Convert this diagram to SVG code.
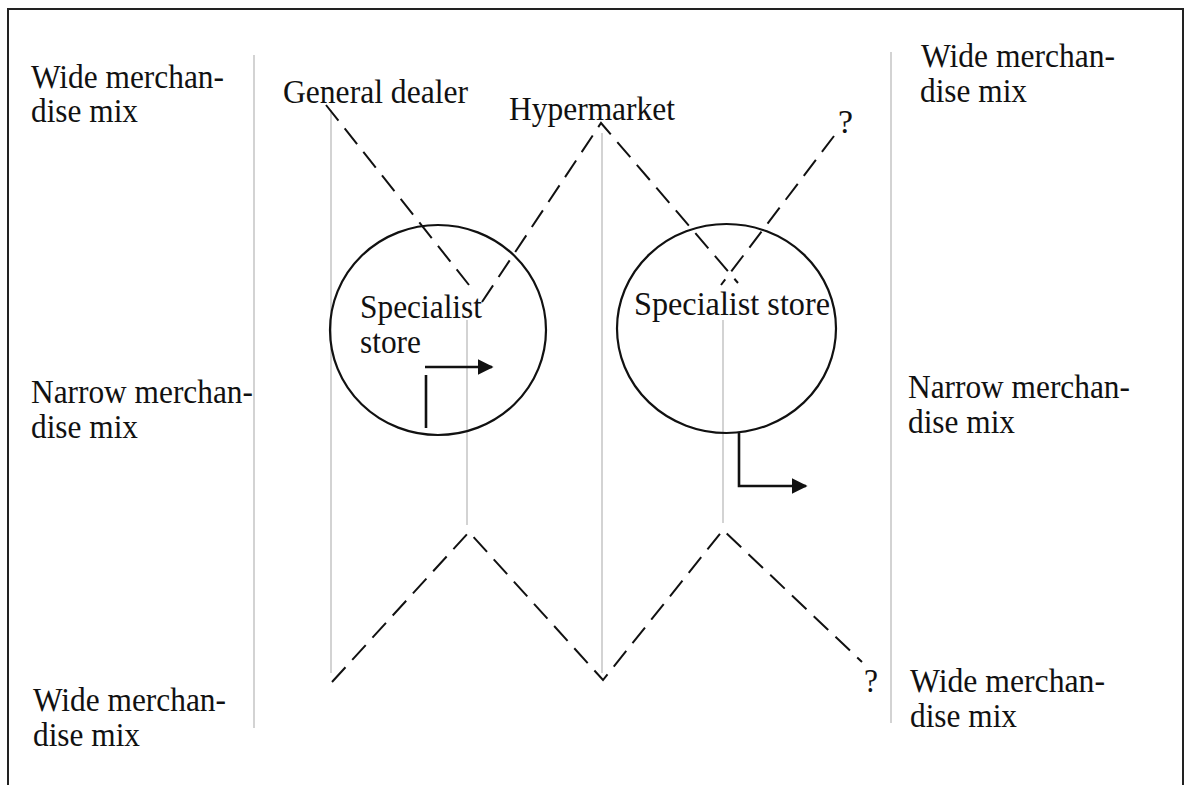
<svg xmlns="http://www.w3.org/2000/svg" width="1187" height="785" viewBox="0 0 1187 785">
  <style>
    .lbl { font-family: "Liberation Serif", "Times New Roman", serif; font-size: 34px; fill: #111; }
    .guide { stroke: #c8c8c8; stroke-width: 1.6; fill: none; }
    .trend { stroke: #111; stroke-width: 2; fill: none; stroke-dasharray: 20 10; }
    .store { stroke: #111; stroke-width: 2.2; fill: none; }
    .move { stroke: #111; stroke-width: 2.6; fill: none; }
  </style>
  <defs>
    <marker id="head" markerWidth="6" markerHeight="6" refX="5.4" refY="3" orient="auto" markerUnits="strokeWidth">
      <path d="M0,0 L6,3 L0,6 Z" fill="#111"/>
    </marker>
  </defs>

  <rect width="1187" height="785" fill="#fff"/>

  <!-- frame (open at the bottom) -->
  <path d="M8,790 V9 H1183 V790" fill="none" stroke="#222" stroke-width="2"/>

  <!-- thin vertical guides -->
  <g id="guides">
    <line class="guide" x1="254" y1="55" x2="254" y2="728"/>
    <line class="guide" x1="331" y1="110" x2="331" y2="673"/>
    <line class="guide" x1="467" y1="320" x2="467" y2="525"/>
    <line class="guide" x1="602" y1="133" x2="602" y2="673"/>
    <line class="guide" x1="723" y1="320" x2="723" y2="523"/>
    <line class="guide" x1="891" y1="52" x2="891" y2="723"/>
  </g>

  <!-- axis labels -->
  <g id="axis-left">
    <text class="lbl" x="31" y="88" textLength="193" lengthAdjust="spacingAndGlyphs">Wide merchan-</text>
    <text class="lbl" x="31" y="122" textLength="107" lengthAdjust="spacingAndGlyphs">dise mix</text>
    <text class="lbl" x="31" y="403" textLength="222" lengthAdjust="spacingAndGlyphs">Narrow merchan-</text>
    <text class="lbl" x="31" y="438" textLength="107" lengthAdjust="spacingAndGlyphs">dise mix</text>
    <text class="lbl" x="33" y="711" textLength="193" lengthAdjust="spacingAndGlyphs">Wide merchan-</text>
    <text class="lbl" x="33" y="746" textLength="107" lengthAdjust="spacingAndGlyphs">dise mix</text>
  </g>
  <g id="axis-right">
    <text class="lbl" x="921" y="67" textLength="194" lengthAdjust="spacingAndGlyphs">Wide merchan-</text>
    <text class="lbl" x="920" y="102" textLength="107" lengthAdjust="spacingAndGlyphs">dise mix</text>
    <text class="lbl" x="908" y="398" textLength="222" lengthAdjust="spacingAndGlyphs">Narrow merchan-</text>
    <text class="lbl" x="908" y="433" textLength="107" lengthAdjust="spacingAndGlyphs">dise mix</text>
    <text class="lbl" x="910" y="692" textLength="195" lengthAdjust="spacingAndGlyphs">Wide merchan-</text>
    <text class="lbl" x="910" y="727" textLength="107" lengthAdjust="spacingAndGlyphs">dise mix</text>
  </g>

  <!-- store types -->
  <g id="general-dealer">
    <text class="lbl" x="283" y="103" textLength="185" lengthAdjust="spacingAndGlyphs">General dealer</text>
  </g>
  <g id="hypermarket">
    <text class="lbl" x="509" y="120" textLength="166" lengthAdjust="spacingAndGlyphs">Hypermarket</text>
  </g>
  <g id="unknown-top">
    <text class="lbl" x="838" y="133" textLength="15" lengthAdjust="spacingAndGlyphs">?</text>
  </g>
  <g id="unknown-bottom">
    <text class="lbl" x="864" y="692" textLength="14" lengthAdjust="spacingAndGlyphs">?</text>
  </g>
  <g id="specialist-1">
    <ellipse class="store" cx="438" cy="330" rx="108" ry="105"/>
    <text class="lbl" x="360" y="318" textLength="122" lengthAdjust="spacingAndGlyphs">Specialist</text>
    <text class="lbl" x="360" y="353" textLength="61" lengthAdjust="spacingAndGlyphs">store</text>
  </g>
  <g id="specialist-2">
    <ellipse class="store" cx="726.5" cy="328.5" rx="109.5" ry="104.5"/>
    <text class="lbl" x="634" y="315" textLength="196" lengthAdjust="spacingAndGlyphs">Specialist store</text>
  </g>

  <!-- connectors -->
  <g id="connectors">
    <path class="trend" d="M326,105 L469,285"/>
    <path class="trend" d="M482,302 L601,123 L738,283"/>
    <path class="trend" d="M834,136 L721,285"/>
    <path class="trend" d="M332,682 L469,532 L603,680 L723,530 L862,662"/>
    <line class="move" x1="426" y1="375" x2="426" y2="428"/>
    <line class="move" x1="425" y1="367" x2="492" y2="367" marker-end="url(#head)"/>
    <path class="move" d="M739,433 V486 H806" marker-end="url(#head)"/>
  </g>
</svg>
